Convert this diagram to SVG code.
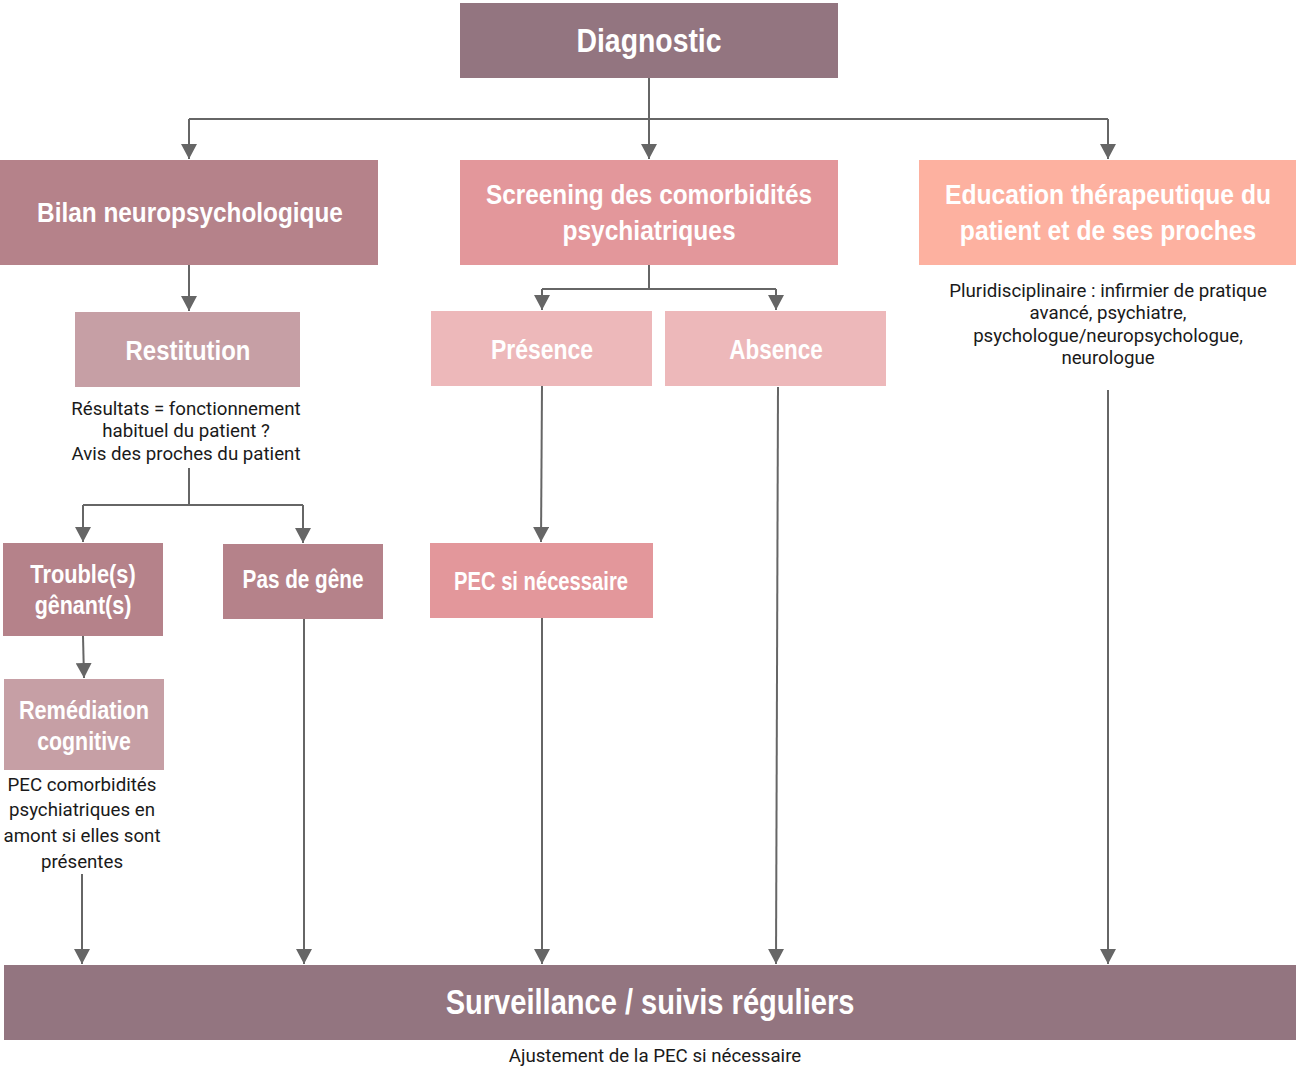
<svg xmlns="http://www.w3.org/2000/svg" width="1296" height="1070" viewBox="0 0 1296 1070">
  <style>
    .hd { font-family: "Liberation Sans", "DejaVu Sans Condensed", sans-serif; font-weight: bold; fill: #ffffff; text-anchor: middle; }
    .note { font-family: Roboto, "Liberation Sans", sans-serif; font-size: 18.7px; fill: #1a1a1a; text-anchor: middle; }
    .wire { fill: none; stroke: #666666; stroke-width: 2; }
    .mauve { fill: #937580; }
    .rose { fill: #b5828a; }
    .pale { fill: #c69fa5; }
    .coral { fill: #e3979b; }
    .blush { fill: #edb8ba; }
    .peach { fill: #fdb1a0; }
  </style>
  <defs>
    <marker id="arrow" markerUnits="userSpaceOnUse" markerWidth="16" markerHeight="16" viewBox="0 0 16 16" refX="15" refY="8" orient="auto">
      <path d="M0,0 L15,8 L0,16 z" fill="#666666"/>
    </marker>
  </defs>

  <rect width="1296" height="1070" fill="#ffffff"/>

  <!-- connectors -->
  <g id="connectors">
    <path class="wire" d="M649,78 V119"/>
    <path class="wire" d="M189,119 H1108"/>
    <path class="wire" d="M189,119 V159" marker-end="url(#arrow)"/>
    <path class="wire" d="M649,119 V159" marker-end="url(#arrow)"/>
    <path class="wire" d="M1108,119 V159" marker-end="url(#arrow)"/>

    <path class="wire" d="M189,265 V311" marker-end="url(#arrow)"/>
    <path class="wire" d="M189,468 V505"/>
    <path class="wire" d="M83,505 H303"/>
    <path class="wire" d="M83,505 V542" marker-end="url(#arrow)"/>
    <path class="wire" d="M303,505 V543" marker-end="url(#arrow)"/>
    <path class="wire" d="M83,636 L84,678" marker-end="url(#arrow)"/>
    <path class="wire" d="M82,874 V964" marker-end="url(#arrow)"/>
    <path class="wire" d="M304,619 V964" marker-end="url(#arrow)"/>

    <path class="wire" d="M649,265 V289"/>
    <path class="wire" d="M542,289 H776"/>
    <path class="wire" d="M542,289 V310" marker-end="url(#arrow)"/>
    <path class="wire" d="M776,289 V310" marker-end="url(#arrow)"/>
    <path class="wire" d="M542,386 L541,542" marker-end="url(#arrow)"/>
    <path class="wire" d="M542,618 V964" marker-end="url(#arrow)"/>
    <path class="wire" d="M778,387 L776,964" marker-end="url(#arrow)"/>

    <path class="wire" d="M1108,390 V964" marker-end="url(#arrow)"/>
  </g>

  <!-- headings are drawn at 78% width to get a condensed face -->
  <g id="diagnostic">
    <rect class="mauve" x="460" y="3" width="378" height="75"/>
    <text class="hd" transform="translate(649,52) scale(0.78,1)" font-size="34" textLength="186" lengthAdjust="spacingAndGlyphs">Diagnostic</text>
  </g>

  <g id="bilan">
    <rect class="rose" x="0" y="160" width="378" height="105"/>
    <text class="hd" transform="translate(190,222) scale(0.78,1)" font-size="28" textLength="392" lengthAdjust="spacingAndGlyphs">Bilan neuropsychologique</text>
  </g>

  <g id="screening">
    <rect class="coral" x="460" y="160" width="378" height="105"/>
    <text class="hd" transform="translate(649,204) scale(0.78,1)" font-size="28" textLength="418" lengthAdjust="spacingAndGlyphs">Screening des comorbidités</text>
    <text class="hd" transform="translate(649,240) scale(0.78,1)" font-size="28" textLength="222" lengthAdjust="spacingAndGlyphs">psychiatriques</text>
  </g>

  <g id="education">
    <rect class="peach" x="919" y="160" width="377" height="105"/>
    <text class="hd" transform="translate(1108,204) scale(0.78,1)" font-size="28" textLength="418" lengthAdjust="spacingAndGlyphs">Education thérapeutique du</text>
    <text class="hd" transform="translate(1108,240) scale(0.78,1)" font-size="28" textLength="380" lengthAdjust="spacingAndGlyphs">patient et de ses proches</text>
    <text class="note" x="1108" y="297">Pluridisciplinaire : infirmier de pratique</text>
    <text class="note" x="1108" y="319">avancé, psychiatre,</text>
    <text class="note" x="1108" y="342">psychologue/neuropsychologue,</text>
    <text class="note" x="1108" y="364">neurologue</text>
  </g>

  <g id="restitution">
    <rect class="pale" x="75" y="312" width="225" height="75"/>
    <text class="hd" transform="translate(188,360) scale(0.78,1)" font-size="28" textLength="160" lengthAdjust="spacingAndGlyphs">Restitution</text>
    <text class="note" x="186" y="415">Résultats = fonctionnement</text>
    <text class="note" x="186" y="437">habituel du patient ?</text>
    <text class="note" x="186" y="460">Avis des proches du patient</text>
  </g>

  <g id="troubles">
    <rect class="rose" x="3" y="543" width="160" height="93"/>
    <text class="hd" transform="translate(83,583) scale(0.78,1)" font-size="26" textLength="135" lengthAdjust="spacingAndGlyphs">Trouble(s)</text>
    <text class="hd" transform="translate(83,614) scale(0.78,1)" font-size="26" textLength="124" lengthAdjust="spacingAndGlyphs">gênant(s)</text>
  </g>

  <g id="pas-de-gene">
    <rect class="rose" x="223" y="544" width="160" height="75"/>
    <text class="hd" transform="translate(303,588) scale(0.78,1)" font-size="26" textLength="155" lengthAdjust="spacingAndGlyphs">Pas de gêne</text>
  </g>

  <g id="remediation">
    <rect class="pale" x="4" y="679" width="160" height="91"/>
    <text class="hd" transform="translate(84,719) scale(0.78,1)" font-size="26" textLength="167" lengthAdjust="spacingAndGlyphs">Remédiation</text>
    <text class="hd" transform="translate(84,750) scale(0.78,1)" font-size="26" textLength="120" lengthAdjust="spacingAndGlyphs">cognitive</text>
    <text class="note" x="82" y="791" font-size="19.3">PEC comorbidités</text>
    <text class="note" x="82" y="816" font-size="19.3">psychiatriques en</text>
    <text class="note" x="82" y="842" font-size="19.3">amont si elles sont</text>
    <text class="note" x="82" y="868" font-size="19.3">présentes</text>
  </g>

  <g id="presence">
    <rect class="blush" x="431" y="311" width="221" height="75"/>
    <text class="hd" transform="translate(542,359) scale(0.78,1)" font-size="28" textLength="131" lengthAdjust="spacingAndGlyphs">Présence</text>
  </g>

  <g id="absence">
    <rect class="blush" x="665" y="311" width="221" height="75"/>
    <text class="hd" transform="translate(776,359) scale(0.78,1)" font-size="28" textLength="120" lengthAdjust="spacingAndGlyphs">Absence</text>
  </g>

  <g id="pec">
    <rect class="coral" x="430" y="543" width="223" height="75"/>
    <text class="hd" transform="translate(541,590) scale(0.78,1)" font-size="25" textLength="223" lengthAdjust="spacingAndGlyphs">PEC si nécessaire</text>
  </g>

  <g id="surveillance">
    <rect class="mauve" x="4" y="965" width="1292" height="75"/>
    <text class="hd" transform="translate(650,1014) scale(0.78,1)" font-size="35" textLength="524" lengthAdjust="spacingAndGlyphs">Surveillance / suivis réguliers</text>
    <text class="note" x="655" y="1062">Ajustement de la PEC si nécessaire</text>
  </g>
</svg>
